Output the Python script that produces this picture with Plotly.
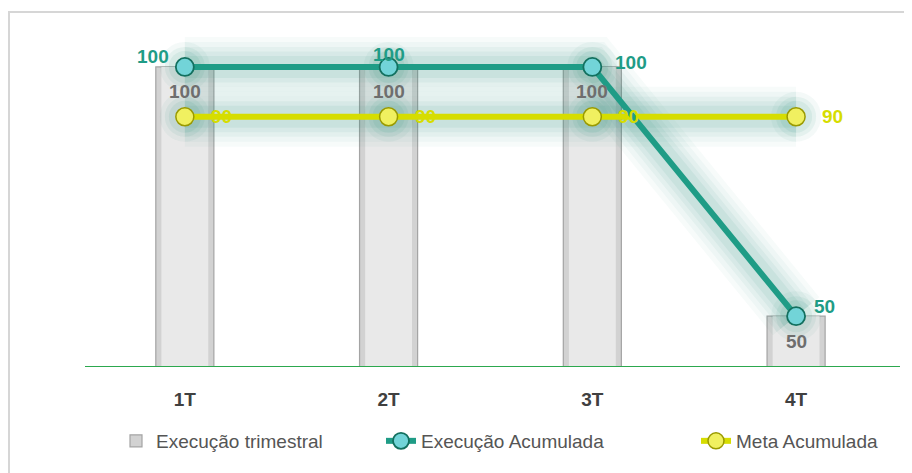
import plotly.graph_objects as go

categories = ["1T", "2T", "3T", "4T"]
exec_trimestral = [100, 100, 100, 50]
exec_acumulada = [100, 100, 100, 50]
meta_acumulada = [90, 90, 90, 90]
y_range = [40, 106]

FONT = "Liberation Sans, Arial, sans-serif"
TEAL = "#1f9c86"
YELLOW = "#d6dd00"

# page is rendered with an 8px body margin; plot area in page px: x 85..900, y 37..366
W, H = 904, 465
L, T = 77, 29
PW, PH = 815, 329
R = W - L - PW
B = H - T - PH


def px(page_x):
    return (page_x - 85) / PW


def py(page_y):
    return (366 - page_y) / PH


fig = go.Figure()

fig.add_trace(go.Bar(
    x=categories, y=exec_trimestral, name="Execução trimestral",
    marker=dict(color="#d2d2d2", line=dict(color="#a4a4a4", width=1.2)),
    width=0.285, legend="legend", hoverinfo="skip",
))
fig.add_trace(go.Bar(
    x=categories, y=exec_trimestral, showlegend=False,
    marker=dict(color="#e9e9e9", line=dict(width=0)),
    width=0.23, hoverinfo="skip",
))

# glow layers
for w, op in [(60, 0.035), (50, 0.04), (40, 0.05), (31, 0.06), (22, 0.07)]:
    for ys in (exec_acumulada, meta_acumulada):
        fig.add_trace(go.Scatter(
            x=categories, y=ys, mode="lines", showlegend=False, hoverinfo="skip",
            line=dict(color=f"rgba(30,140,120,{op})", width=w),
        ))
for s, op in [(50, 0.05), (40, 0.07), (32, 0.08)]:
    for ys in (exec_acumulada, meta_acumulada):
        fig.add_trace(go.Scatter(
            x=categories, y=ys, mode="markers", showlegend=False, hoverinfo="skip",
            marker=dict(size=s, color=f"rgba(30,140,120,{op})", line=dict(width=0)),
        ))

fig.add_trace(go.Scatter(
    x=categories, y=meta_acumulada, name="Meta Acumulada", mode="lines+markers",
    line=dict(color=YELLOW, width=6), legend="legend3",
    marker=dict(size=18, color="#f0f060", line=dict(color="#9a9a00", width=1.5)),
    hoverinfo="skip",
))
fig.add_trace(go.Scatter(
    x=categories, y=exec_acumulada, name="Execução Acumulada", mode="lines+markers",
    line=dict(color=TEAL, width=6), legend="legend2",
    marker=dict(size=18, color="#72d4d8", line=dict(color="#13705f", width=1.8)),
    hoverinfo="skip",
))

annotations = []
lab = dict(family=FONT, size=19, weight="bold")
# bar labels
for c, v in zip(categories, exec_trimestral):
    annotations.append(dict(x=c, y=v, text=str(v), showarrow=False, xanchor="center",
                            yanchor="middle", yshift=-25,
                            font=dict(lab, color="#6e6e6e")))
# meta labels
for c, v in zip(categories, meta_acumulada):
    annotations.append(dict(x=c, y=v, text=str(v), showarrow=False, xanchor="left",
                            yanchor="middle", xshift=24,
                            font=dict(lab, color=YELLOW)))
# execução acumulada labels
teal_pos = [("right", -14, 10), ("center", 0, 12), ("left", 21, 4), ("left", 16, 10)]
for c, v, (xa, xs, ys) in zip(categories, exec_acumulada, teal_pos):
    annotations.append(dict(x=c, y=v, text=str(v), showarrow=False, xanchor=xa,
                            yanchor="middle", xshift=xs, yshift=ys,
                            font=dict(lab, color=TEAL)))

leg = dict(orientation="h", y=py(441), yanchor="middle", xanchor="left",
           font=dict(family=FONT, size=19, color="#555555"),
           bgcolor="rgba(0,0,0,0)", borderwidth=0)

fig.update_layout(
    width=W, height=H,
    margin=dict(l=L, r=R, t=T, b=B),
    paper_bgcolor="white", plot_bgcolor="white",
    font=dict(family=FONT, color="#555555", size=16),
    barmode="overlay",
    showlegend=True,
    legend=dict(leg, x=px(116)),
    legend2=dict(leg, x=px(381)),
    legend3=dict(leg, x=px(696)),
    xaxis=dict(showgrid=False, showline=True, linecolor="#2ca84e", linewidth=1.2,
               ticks="", ticklabelstandoff=16,
               tickfont=dict(family=FONT, size=19, color="#404040", weight="bold"),
               range=[-0.49, 3.51]),
    yaxis=dict(range=y_range, showgrid=False, showticklabels=False, zeroline=False,
               showline=False),
    annotations=annotations,
    shapes=[dict(type="rect", xref="paper", yref="paper",
                 x0=px(9), x1=px(930),
                 y0=py(490), y1=py(12),
                 line=dict(color="#d6d6d6", width=2), fillcolor="rgba(0,0,0,0)",
                 layer="below")],
)

fig.write_html("out.html")
